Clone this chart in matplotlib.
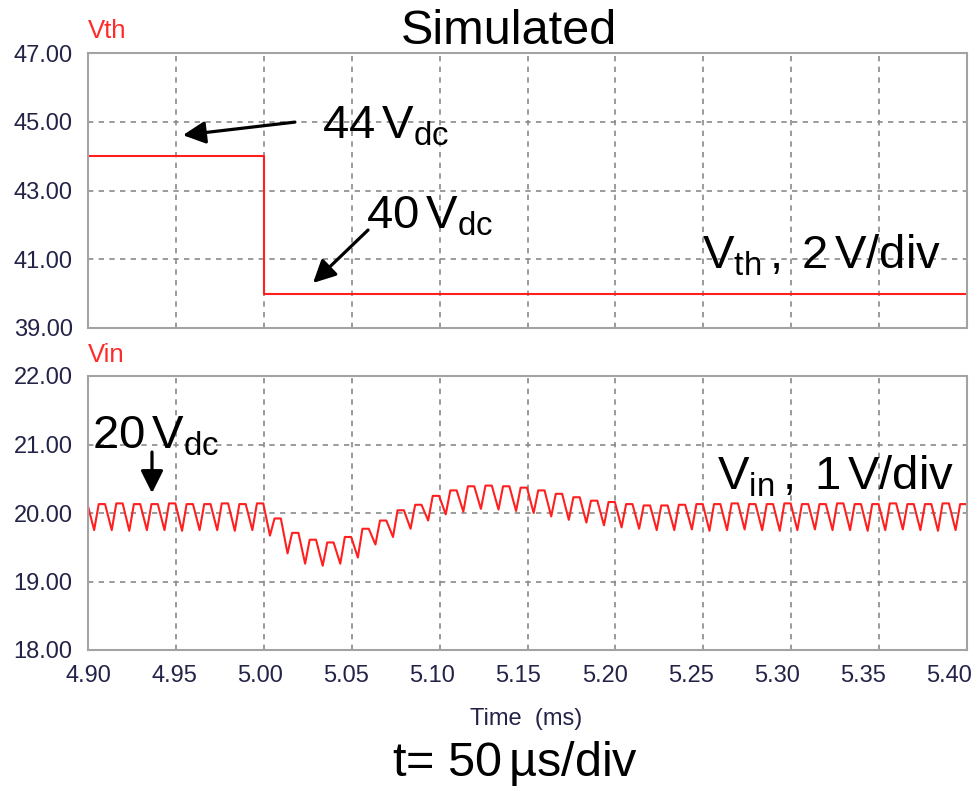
import numpy as np
import matplotlib
matplotlib.use("Agg")
import matplotlib.pyplot as plt
from matplotlib.ticker import FormatStrFormatter
from matplotlib.transforms import ScaledTranslation

plt.rcParams["font.family"] = ["Liberation Sans", "DejaVu Sans"]
plt.rcParams["mathtext.fontset"] = "custom"
plt.rcParams["mathtext.rm"] = "Liberation Sans"
plt.rcParams["mathtext.it"] = "Liberation Sans:italic"
plt.rcParams["mathtext.bf"] = "Liberation Sans:bold"

# ---------------- data ----------------
time_ticks = [4.90, 4.95, 5.00, 5.05, 5.10, 5.15, 5.20, 5.25, 5.30, 5.35, 5.40]
vth_ticks = [39, 41, 43, 45, 47]
vin_ticks = [18, 19, 20, 21, 22]

# threshold voltage step (ms, V)
vth_time = [4.90, 5.00, 5.40]
vth_volts = [44.0, 40.0, 40.0]

# input voltage ripple: one trough and one crest per switching period
ripple_first_trough = 4.8935   # ms
ripple_period = 0.01           # ms (100 kHz)
vin_trough = [19.75,
              19.75, 19.75, 19.74, 19.75, 19.75, 19.74, 19.75, 19.75, 19.74, 19.75,
              19.67, 19.41, 19.26, 19.23, 19.26, 19.35, 19.54, 19.65, 19.77, 19.89,
              19.98, 20.02, 20.06, 20.05, 20.03, 20.00, 19.95, 19.90, 19.86, 19.82,
              19.79, 19.77, 19.75, 19.75, 19.76, 19.74, 19.75, 19.76, 19.75, 19.74,
              19.75, 19.76, 19.75, 19.75, 19.74, 19.75, 19.76, 19.75, 19.74, 19.75,
              19.75]
vin_peak = [20.13,
            20.13, 20.14, 20.13, 20.13, 20.14, 20.13, 20.13, 20.14, 20.13, 20.14,
            19.92, 19.71, 19.61, 19.57, 19.65, 19.77, 19.89, 20.04, 20.12, 20.25,
            20.33, 20.39, 20.40, 20.39, 20.37, 20.33, 20.28, 20.23, 20.18, 20.16,
            20.13, 20.11, 20.11, 20.12, 20.13, 20.13, 20.14, 20.13, 20.13, 20.14,
            20.13, 20.13, 20.14, 20.13, 20.13, 20.14, 20.13, 20.13, 20.14, 20.13]

# ---------------- build the ripple trace ----------------
trough_t = ripple_first_trough + ripple_period * np.arange(len(vin_trough))
vin_t, vin_v = [], []
for k in range(len(vin_peak)):
    vin_t += [trough_t[k], trough_t[k] + 0.26 * ripple_period, trough_t[k] + 0.62 * ripple_period]
    vin_v += [vin_trough[k], vin_peak[k], vin_peak[k]]
vin_t.append(trough_t[len(vin_peak)])
vin_v.append(vin_trough[len(vin_peak)])

# ---------------- figure ----------------
W, H = 979, 791
fig = plt.figure(figsize=(W / 100, H / 100), dpi=100)


def box(left, top, right, bottom):
    return [left / W, 1 - bottom / H, (right - left) / W, (bottom - top) / H]


ax1 = fig.add_axes(box(88, 53, 967, 328))
ax2 = fig.add_axes(box(88, 376, 967, 650))

trace_red = "#ff1f1f"
tick_col = "#232348"

for ax in (ax1, ax2):
    ax.set_xlim(time_ticks[0], time_ticks[-1])
    ax.set_xticks(time_ticks)
    ax.xaxis.set_major_formatter(FormatStrFormatter("%.2f"))
    ax.yaxis.set_major_formatter(FormatStrFormatter("%.2f"))
    ax.grid(True, color="#8a8a8a", linestyle=(0, (3.2, 3.2)), linewidth=1.2)
    for s in ax.spines.values():
        s.set_color("#a3a3a3")
        s.set_linewidth(1.5)
    ax.tick_params(length=0, labelsize=17, labelcolor=tick_col)
    ax.tick_params(axis="y", pad=11)
    ax.tick_params(axis="x", pad=11)

ax1.set_ylim(vth_ticks[0], vth_ticks[-1])
ax1.set_yticks(vth_ticks)
ax1.tick_params(labelbottom=False)
ax1.step(vth_time, vth_volts, where="post", color=trace_red, lw=1.5)

ax2.set_ylim(vin_ticks[0], vin_ticks[-1])
ax2.set_yticks(vin_ticks)
ax2.plot(vin_t, vin_v, color=trace_red, lw=1.5, solid_joinstyle="round")

# the time labels of the viewer sit slightly left of their grid lines
for i, lbl in enumerate(ax2.get_xticklabels()):
    lbl.set_transform(lbl.get_transform() + ScaledTranslation(-1.8 * i / 100, 0, fig.dpi_scale_trans))


def ftext(px, py, s, **kw):
    return fig.text(px / W, 1 - py / H, s, **kw)


# channel names
ftext(88, 38, "Vth", color="#ff2a2a", fontsize=18.5, ha="left", va="baseline")
ftext(88, 362, "Vin", color="#ff2a2a", fontsize=18.5, ha="left", va="baseline")

# titles
ftext(509, 44, "Simulated", fontsize=35, ha="center", va="baseline")
ftext(526, 725, "Time  (ms)", fontsize=17, color=tick_col, ha="center", va="baseline")
ftext(515, 776, r"t= 50$\mathregular{\,}$µs/div", fontsize=35, ha="center", va="baseline")

big = 34
ftext(322, 138, r"$\mathregular{44\,V_{dc}}$", fontsize=big, ha="left", va="baseline")
ftext(366, 228, r"$\mathregular{40\,V_{dc}}$", fontsize=big, ha="left", va="baseline")
ftext(702, 268, r"$\mathregular{V_{th}\,,\;2\,V/div}$", fontsize=big, ha="left", va="baseline")
ftext(92, 448, r"$\mathregular{20\,V_{dc}}$", fontsize=big, ha="left", va="baseline")
ftext(717, 490, r"$\mathregular{V_{in}\,,\;1\,V/div}$", fontsize=big, ha="left", va="baseline")

arrow = dict(arrowstyle="-|>", color="black", lw=2.3, mutation_scale=34, shrinkA=0, shrinkB=0)
ax1.annotate("", xy=(4.954, 44.61), xytext=(5.0177, 44.99), arrowprops=arrow, annotation_clip=False)
ax1.annotate("", xy=(5.028, 40.31), xytext=(5.0593, 41.85), arrowprops=arrow, annotation_clip=False)
ax2.annotate("", xy=(4.9364, 20.29), xytext=(4.9364, 20.89), arrowprops=arrow, annotation_clip=False)

fig.savefig("out.png", dpi=100)
